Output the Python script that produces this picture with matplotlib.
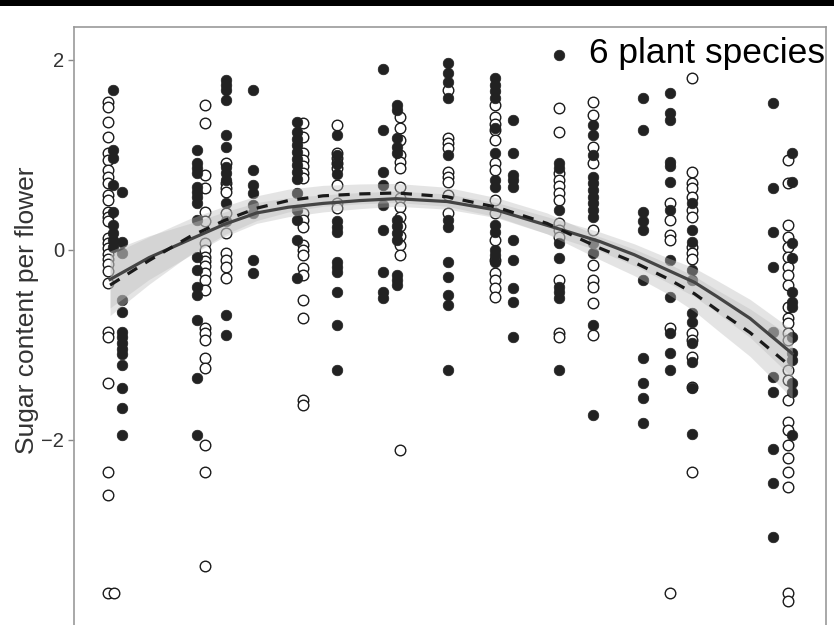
import numpy as np
import matplotlib
matplotlib.use('Agg')
import matplotlib.pyplot as plt
from matplotlib.patches import Rectangle

plt.rcParams['font.family'] = ['Liberation Sans', 'DejaVu Sans']

# filled points: column position and values
filled_x = [5.2, 6.4, 16.4, 20.2, 23.8, 29.7, 35.0, 41.1, 43.0, 49.7,
            56.0, 58.4, 64.5, 69.0, 75.7, 79.3, 82.2, 93.0, 95.5]
filled_y = [
    [1.68, 1.05, 0.97, 0.68, 0.40, 0.26, 0.18, 0.10, 0.03],
    [0.61, 0.08, -0.03, -0.53, -0.65, -0.86, -0.92, -0.98, -1.04, -1.10, -1.21, -1.45, -1.66, -1.95],
    [1.05, 0.92, 0.86, 0.81, 0.66, 0.61, 0.56, 0.49, 0.32, -0.07, -0.21, -0.39, -0.47, -0.74, -1.35, -1.95],
    [1.79, 1.74, 1.68, 1.58, 1.21, 1.08, 0.87, 0.81, 0.74, 0.49, 0.30, -0.68, -0.89],
    [1.68, 0.84, 0.68, 0.60, 0.47, 0.39, -0.11, -0.24],
    [1.35, 1.24, 1.17, 1.10, 1.03, 0.96, 0.89, 0.82, 0.75, 0.60, 0.42, 0.32, 0.11, -0.30],
    [1.21, 1.00, 0.90, 0.80, 0.30, 0.24, 0.19, -0.13, -0.18, -0.23, -0.44, -0.79, -1.26],
    [1.91, 1.26, 0.82, 0.68, 0.47, 0.21, -0.23, -0.44, -0.51],
    [1.53, 1.47, 1.18, 1.08, 1.02, 0.32, 0.25, 0.18, 0.11, -0.26, -0.32, -0.37],
    [1.97, 1.86, 1.77, 1.60, 1.00, 0.32, 0.24, -0.13, -0.28, -0.47, -0.58, -1.26],
    [1.81, 1.74, 1.67, 1.60, 1.28, 1.02, 0.74, 0.66, 0.26, 0.19, 0.00, -0.05, -0.13],
    [1.37, 1.02, 0.79, 0.74, 0.66, 0.11, -0.11, -0.40, -0.55, -0.92],
    [2.05, 0.92, 0.86, 0.42, 0.07, -0.08, -0.39, -0.44, -0.51, -1.26],
    [1.32, 1.21, 1.00, 0.77, 0.70, 0.63, 0.56, 0.49, 0.42, 0.35, 0.07, -0.03, -0.79, -1.74],
    [1.60, 1.26, 0.40, 0.30, 0.21, -0.32, -1.14, -1.40, -1.56, -1.82],
    [1.65, 1.44, 1.37, 0.93, 0.88, 0.72, 0.42, -0.11, -0.49, -0.87, -1.08, -1.26],
    [0.49, 0.21, 0.08, -0.21, -0.32, -0.66, -0.76, -0.98, -1.18, -1.45, -1.94],
    [1.55, 0.65, 0.19, -0.18, -0.86, -1.34, -1.49, -2.09, -2.45, -3.02],
    [1.02, 0.72, 0.07, -0.08, -0.44, -0.55, -0.60, -0.92, -1.08, -1.16, -1.40, -1.49, -1.95],
]

# open points
open_x = [4.5, 5.3, 17.4, 20.2, 30.5, 35.0, 43.4, 49.7, 56.0, 64.5, 69.0, 79.3, 82.2, 94.9]
open_y = [
    [1.56, 1.51, 1.35, 1.19, 1.02, 0.95, 0.84, 0.77, 0.71, 0.58, 0.53, 0.40, 0.35, 0.30, 0.13, 0.07,
     0.02, -0.04, -0.09, -0.15, -0.22, -0.35, -0.86, -0.92, -1.40, -2.34, -2.58, -3.61],
    [-3.61],
    [1.53, 1.34, 0.79, 0.65, 0.40, 0.30, 0.07, 0.00, -0.07, -0.12, -0.17, -0.24, -0.32, -0.42,
     -0.82, -0.87, -0.95, -1.14, -1.24, -2.05, -2.34, -3.33],
    [0.92, 0.71, 0.65, 0.61, 0.39, 0.18, -0.03, -0.11, -0.18, -0.30],
    [1.34, 1.19, 1.02, 0.95, 0.88, 0.81, 0.76, 0.39, 0.32, 0.24, 0.05, 0.00, -0.05, -0.19, -0.26,
     -0.53, -0.72, -1.58, -1.63],
    [1.32, 1.02, 0.97, 0.92, 0.86, 0.68, 0.49, 0.44],
    [1.40, 1.28, 1.16, 1.00, 0.93, 0.86, 0.66, 0.55, 0.45, 0.35, 0.25, 0.15, 0.05, -0.05, -2.11],
    [1.68, 1.18, 1.13, 1.07, 0.82, 0.77, 0.72, 0.58, 0.39],
    [1.53, 1.40, 1.33, 1.26, 1.16, 0.92, 0.84, 0.53, 0.39, 0.11, -0.11, -0.24, -0.32, -0.40, -0.49],
    [1.49, 1.24, 0.81, 0.74, 0.67, 0.60, 0.53, 0.28, 0.21, 0.14, -0.32, -0.87, -0.92],
    [1.56, 1.42, 1.08, 0.92, 0.21, -0.16, -0.32, -0.39, -0.56, -0.89],
    [0.49, 0.32, 0.16, 0.11, -0.82, -3.61],
    [1.81, 0.82, 0.71, 0.65, 0.56, 0.42, 0.35, 0.03, -0.03, -0.10, -0.87, -0.95, -1.13, -1.44, -2.34],
    [0.95, 0.71, 0.26, 0.14, 0.03, -0.07, -0.18, -0.26, -0.37, -0.60, -0.72, -0.77, -0.87, -0.95,
     -1.26, -1.37, -1.58, -1.81, -1.89, -2.05, -2.19, -2.34, -2.49, -3.61, -3.70],
]

# fitted curves
fit_x = [4.8, 10.0, 15.4, 20.0, 24.3, 28.5, 33.1, 38.0, 42.9, 49.6, 56.2, 62.9, 69.9, 74.5,
         78.9, 82.5, 85.5, 89.9, 95.5]
solid_y = [-0.31, -0.08, 0.11, 0.27, 0.39, 0.45, 0.49, 0.52, 0.54, 0.51, 0.42, 0.26, 0.09,
           -0.05, -0.21, -0.34, -0.49, -0.72, -1.09]
solid_hw = [0.30, 0.23, 0.17, 0.13, 0.11, 0.10, 0.09, 0.085, 0.08, 0.08, 0.08, 0.09, 0.10,
            0.115, 0.13, 0.15, 0.17, 0.20, 0.25]
dashed_y = [-0.37, -0.11, 0.14, 0.31, 0.44, 0.52, 0.57, 0.59, 0.60, 0.56, 0.45, 0.28, 0.02,
            -0.13, -0.30, -0.46, -0.63, -0.87, -1.24]
dashed_hw = [0.32, 0.25, 0.19, 0.15, 0.13, 0.12, 0.11, 0.105, 0.10, 0.10, 0.10, 0.11, 0.12,
             0.14, 0.16, 0.185, 0.21, 0.25, 0.32]

fig = plt.figure(figsize=(8.34, 6.25), dpi=100)
ax = fig.add_axes([0.0887, -0.02, 0.9017, 0.9768])

fx = np.concatenate([[x] * len(v) for x, v in zip(filled_x, filled_y)])
fy = np.concatenate(filled_y)
ox = np.concatenate([[x] * len(v) for x, v in zip(open_x, open_y)])
oy = np.concatenate(open_y)

ax.scatter(ox, oy, s=58, facecolor='white', edgecolor='#1a1a1a', linewidth=1.0, zorder=2)
ax.scatter(fx, fy, s=58, facecolor='#222222', edgecolor='#222222', linewidth=0.5, zorder=2)

sy = np.array(solid_y)
dy = np.array(dashed_y)
ax.fill_between(fit_x, sy - np.array(solid_hw), sy + np.array(solid_hw),
                color='#bdbdbd', alpha=0.4, linewidth=0, zorder=3)
ax.fill_between(fit_x, dy - np.array(dashed_hw), dy + np.array(dashed_hw),
                color='#bdbdbd', alpha=0.4, linewidth=0, zorder=3)
ax.plot(fit_x, sy, color='#444444', lw=2.3, zorder=4)
ax.plot(fit_x, dy, color='#1a1a1a', lw=2.3, dashes=(3.5, 3), zorder=4)

ax.set_xlim(0, 100)
ax.set_ylim(-4.079, 2.347)
ax.set_yticks([2, 0, -2])
ax.set_yticklabels(['2', '0', '\u22122'])
ax.set_xticks([])
ax.tick_params(axis='y', length=4, width=1, color='#888888', labelsize=14.5,
               labelcolor='#333333', pad=3)
for s in ['left', 'top', 'right']:
    ax.spines[s].set_color('#999999')
    ax.spines[s].set_linewidth(1.2)
ax.spines['bottom'].set_visible(False)

fig.text(27 / 834, 0.504, 'Sugar content per flower', rotation=90,
         ha='center', va='center', fontsize=19, color='#333333')
fig.text(0.989, 1 - 63 / 625, '6 plant species', ha='right', va='baseline',
         fontsize=25.5, color='black')

fig.patches.append(Rectangle((0, 1 - 6 / 625), 1, 6 / 625, transform=fig.transFigure,
                             facecolor='black', edgecolor='none'))

fig.savefig('out.png', dpi=100)
